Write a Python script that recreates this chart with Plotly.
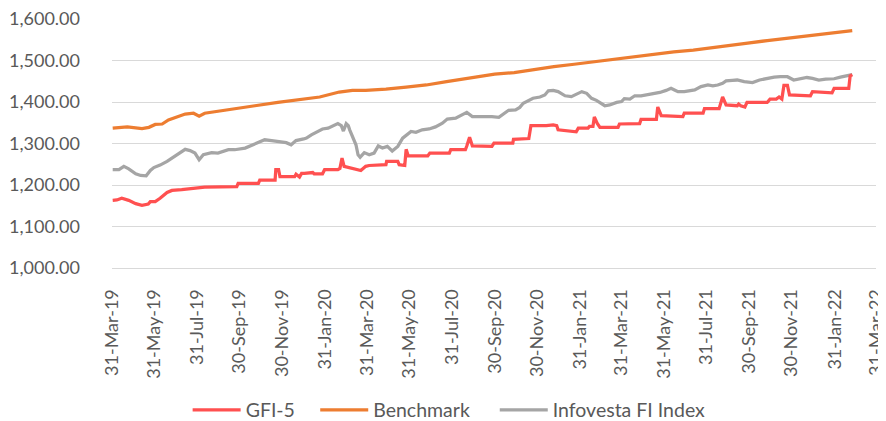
import plotly.graph_objects as go

# ---------------- data ----------------
gfi_dates = [
    "2019-04-01", "2019-04-07", "2019-04-14", "2019-04-24", "2019-05-04", "2019-05-13", "2019-05-22",
    "2019-05-25", "2019-06-01", "2019-06-08", "2019-06-18", "2019-06-25", "2019-07-09", "2019-08-11",
    "2019-09-26", "2019-09-28", "2019-10-27", "2019-10-29", "2019-11-20", "2019-11-21", "2019-11-25",
    "2019-11-27", "2019-12-18", "2019-12-20", "2019-12-25", "2019-12-28", "2020-01-01", "2020-01-13",
    "2020-01-15", "2020-01-27", "2020-01-30", "2020-02-18", "2020-02-21", "2020-02-24", "2020-02-27",
    "2020-03-10", "2020-03-22", "2020-03-29", "2020-04-03", "2020-04-27", "2020-04-28", "2020-05-14",
    "2020-05-16", "2020-05-24", "2020-05-26", "2020-05-29", "2020-06-26", "2020-06-29", "2020-07-27",
    "2020-07-29", "2020-08-19", "2020-08-21", "2020-08-25", "2020-08-29", "2020-09-26", "2020-09-29",
    "2020-10-26", "2020-10-27", "2020-11-18", "2020-11-21", "2020-12-13", "2020-12-23", "2020-12-28",
    "2020-12-30", "2021-01-15", "2021-01-25", "2021-01-28", "2021-02-11", "2021-02-13", "2021-02-18",
    "2021-02-20", "2021-02-24", "2021-02-28", "2021-03-26", "2021-03-28", "2021-04-26", "2021-04-28",
    "2021-05-20", "2021-05-22", "2021-05-27", "2021-06-27", "2021-06-29", "2021-07-26", "2021-07-28",
    "2021-08-18", "2021-08-23", "2021-08-28", "2021-09-13", "2021-09-15", "2021-09-18", "2021-09-24",
    "2021-09-27", "2021-10-26", "2021-10-30", "2021-11-08", "2021-11-12", "2021-11-16", "2021-11-19",
    "2021-11-24", "2021-11-27", "2021-12-27", "2021-12-30", "2022-01-27", "2022-01-30", "2022-02-20",
    "2022-02-22", "2022-02-25",
]
gfi_values = [
    1163, 1164, 1168, 1163, 1155, 1151, 1154,
    1160, 1160, 1168, 1182, 1187, 1189, 1195,
    1196, 1204, 1204, 1212, 1212, 1237, 1237,
    1220, 1220, 1226, 1219, 1228, 1228, 1230,
    1227, 1227, 1237, 1237, 1240, 1265, 1245,
    1241, 1235, 1245, 1247, 1249, 1257, 1257,
    1249, 1247, 1286, 1270, 1270, 1277, 1277,
    1285, 1285, 1294, 1315, 1294, 1293, 1301,
    1301, 1310, 1312, 1343, 1343, 1345, 1343,
    1333, 1329, 1328, 1337, 1337, 1341, 1341,
    1364, 1349, 1339, 1339, 1347, 1348, 1358,
    1358, 1388, 1367, 1365, 1373, 1373, 1384,
    1384, 1412, 1393, 1391, 1395, 1391, 1388,
    1399, 1399, 1407, 1407, 1412, 1407, 1440,
    1440, 1417, 1415, 1425, 1422, 1433, 1433,
    1463, 1466,
]

bench_dates = [
    "2019-04-01", "2019-04-22", "2019-05-13", "2019-05-23", "2019-06-01", "2019-06-11", "2019-06-20",
    "2019-07-02", "2019-07-14", "2019-07-26", "2019-08-03", "2019-08-11", "2019-08-26", "2019-09-19",
    "2019-10-22", "2019-11-24", "2019-12-31", "2020-01-23", "2020-02-20", "2020-03-10", "2020-03-29",
    "2020-04-27", "2020-05-26", "2020-06-24", "2020-07-23", "2020-08-20", "2020-09-18", "2020-09-30",
    "2020-10-28", "2020-11-26", "2020-12-24", "2021-01-22", "2021-02-19", "2021-03-20", "2021-04-18",
    "2021-05-16", "2021-06-14", "2021-07-12", "2021-08-02", "2021-08-30", "2021-09-28", "2021-10-26",
    "2021-11-24", "2021-12-22", "2021-12-30", "2022-01-25", "2022-02-25",
]
bench_values = [
    1337, 1340, 1336, 1339, 1346, 1347, 1357,
    1363, 1371, 1373, 1366, 1373, 1377, 1384,
    1391, 1399, 1408, 1412, 1424, 1428, 1428,
    1431, 1436, 1441, 1449, 1457, 1465, 1467,
    1471, 1479, 1485, 1491, 1497, 1503, 1509,
    1516, 1521, 1525, 1530, 1536, 1542, 1548,
    1554, 1559, 1562, 1566, 1572,
]

index_dates = [
    "2019-04-01", "2019-04-10", "2019-04-17", "2019-04-24", "2019-05-04", "2019-05-11", "2019-05-19",
    "2019-05-25", "2019-05-30", "2019-06-08", "2019-06-18", "2019-06-27", "2019-07-07", "2019-07-14",
    "2019-07-21", "2019-07-28", "2019-08-03", "2019-08-09", "2019-08-21", "2019-08-30", "2019-09-14",
    "2019-09-23", "2019-10-08", "2019-10-22", "2019-11-05", "2019-11-15", "2019-11-24", "2019-12-06",
    "2019-12-13", "2019-12-20", "2019-12-31", "2020-01-04", "2020-01-11", "2020-01-20", "2020-01-27",
    "2020-02-04", "2020-02-11", "2020-02-18", "2020-02-23", "2020-02-26", "2020-03-01", "2020-03-04",
    "2020-03-06", "2020-03-10", "2020-03-15", "2020-03-18", "2020-03-21", "2020-03-27", "2020-04-03",
    "2020-04-10", "2020-04-16", "2020-04-22", "2020-04-29", "2020-05-06", "2020-05-14", "2020-05-21",
    "2020-05-28", "2020-06-02", "2020-06-09", "2020-06-18", "2020-06-28", "2020-07-07", "2020-07-17",
    "2020-07-24", "2020-08-05", "2020-08-14", "2020-08-21", "2020-08-29", "2020-09-07", "2020-09-17",
    "2020-09-26", "2020-10-06", "2020-10-13", "2020-10-20", "2020-10-30", "2020-11-05", "2020-11-10",
    "2020-11-17", "2020-11-24", "2020-12-04", "2020-12-11", "2020-12-16", "2020-12-23", "2020-12-30",
    "2021-01-09", "2021-01-18", "2021-01-26", "2021-02-02", "2021-02-09", "2021-02-16", "2021-02-23",
    "2021-03-02", "2021-03-07", "2021-03-14", "2021-03-24", "2021-03-31", "2021-04-04", "2021-04-12",
    "2021-04-19", "2021-04-28", "2021-05-05", "2021-05-15", "2021-05-25", "2021-06-03", "2021-06-10",
    "2021-06-15", "2021-06-20", "2021-06-29", "2021-07-06", "2021-07-14", "2021-07-23", "2021-08-02",
    "2021-08-09", "2021-08-16", "2021-08-23", "2021-08-28", "2021-09-06", "2021-09-13", "2021-09-23",
    "2021-10-05", "2021-10-15", "2021-10-26", "2021-11-05", "2021-11-14", "2021-11-24", "2021-12-03",
    "2021-12-13", "2021-12-22", "2021-12-30", "2022-01-08", "2022-01-18", "2022-01-30", "2022-02-08",
    "2022-02-18", "2022-02-25",
]
index_values = [
    1237, 1237, 1245, 1239, 1227, 1223, 1222,
    1235, 1242, 1248, 1257, 1267, 1277, 1286,
    1283, 1277, 1261, 1273, 1278, 1277, 1285,
    1285, 1289, 1299, 1309, 1307, 1305, 1302,
    1297, 1307, 1311, 1313, 1321, 1329, 1335,
    1337, 1343, 1348, 1343, 1330, 1348, 1343,
    1333, 1317, 1297, 1273, 1267, 1278, 1273,
    1277, 1294, 1289, 1293, 1282, 1293, 1313,
    1321, 1329, 1327, 1333, 1335, 1340, 1349,
    1359, 1361, 1369, 1375, 1365, 1365, 1364,
    1365, 1363, 1371, 1380, 1381, 1387, 1397,
    1404, 1409, 1412, 1417, 1427, 1428, 1425,
    1415, 1413, 1420, 1425, 1421, 1409, 1404,
    1397, 1391, 1393, 1399, 1401, 1408, 1407,
    1415, 1415, 1417, 1421, 1423, 1428, 1433,
    1429, 1425, 1425, 1427, 1429, 1437, 1441,
    1439, 1441, 1445, 1451, 1452, 1453, 1449,
    1447, 1453, 1457, 1460, 1461, 1461, 1453,
    1457, 1459, 1457, 1453, 1455, 1456, 1460,
    1463, 1466,
]

tick_dates = [
    "2019-03-31", "2019-05-31", "2019-07-31", "2019-09-30", "2019-11-30", "2020-01-31", "2020-03-31",
    "2020-05-31", "2020-07-31", "2020-09-30", "2020-11-30", "2021-01-31", "2021-03-31", "2021-05-31",
    "2021-07-31", "2021-09-30", "2021-11-30", "2022-01-31", "2022-03-31",
]
tick_labels = [
    "31-Mar-19", "31-May-19", "31-Jul-19", "30-Sep-19", "30-Nov-19", "31-Jan-20", "31-Mar-20",
    "31-May-20", "31-Jul-20", "30-Sep-20", "30-Nov-20", "31-Jan-21", "31-Mar-21", "31-May-21",
    "31-Jul-21", "30-Sep-21", "30-Nov-21", "31-Jan-22", "31-Mar-22",
]

# ---------------- figure ----------------
FONT = "Lato, 'Open Sans', sans-serif"
TXT = "#595959"

fig = go.Figure()
fig.add_trace(go.Scatter(x=index_dates, y=index_values, name="Infovesta FI Index", mode="lines",
                         line=dict(color="#A5A5A5", width=3.25), legend="legend3"))
fig.add_trace(go.Scatter(x=bench_dates, y=bench_values, name="Benchmark", mode="lines",
                         line=dict(color="#ED7D31", width=3.25), legend="legend2"))
fig.add_trace(go.Scatter(x=gfi_dates, y=gfi_values, name="GFI-5", mode="lines",
                         line=dict(color="#FF5050", width=3.25), legend="legend"))

leg_common = dict(orientation="h", yanchor="middle", y=-0.571, xanchor="left",
                  font=dict(family=FONT, size=19.5, color=TXT), bgcolor="rgba(0,0,0,0)",
                  borderwidth=0, itemwidth=48)

fig.update_layout(
    width=886, height=413,
    margin=dict(l=104, r=18, t=11, b=153, pad=0, autoexpand=False),
    paper_bgcolor="white", plot_bgcolor="white",
    font=dict(family=FONT, size=18, color=TXT),
    showlegend=True,
    legend=dict(x=0.099, **leg_common),
    legend2=dict(x=0.266, **leg_common),
    legend3=dict(x=0.501, **leg_common),
    xaxis=dict(
        type="date", range=["2019-03-31", "2022-03-31 02:00"], automargin=False,
        tickmode="array", tickvals=tick_dates, ticktext=tick_labels,
        tickangle=-90, showgrid=False, zeroline=False,
        showline=True, linecolor="#D9D9D9", linewidth=1,
        ticks="", ticklabelstandoff=13, ticklabeloverflow="allow",
        tickfont=dict(family=FONT, size=18, color=TXT),
    ),
    yaxis=dict(
        range=[1000, 1600.01], tick0=1000, dtick=100, tickformat=",.2f", automargin=False,
        showgrid=True, gridcolor="#D9D9D9", gridwidth=1, zeroline=False,
        showline=False, ticks="", ticklabelstandoff=31, ticklabeloverflow="allow",
        tickfont=dict(family=FONT, size=18, color=TXT),
    ),
)

fig.write_html("out.html")
